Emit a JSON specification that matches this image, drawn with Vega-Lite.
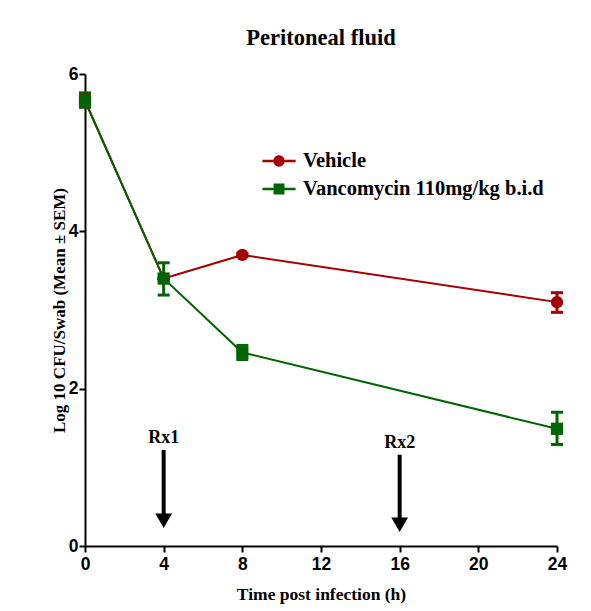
{
  "$schema": "https://vega.github.io/schema/vega-lite/v6.json",
  "width": 472,
  "height": 472,
  "autosize": "none",
  "padding": {"left": 85, "top": 74, "right": 34, "bottom": 65},
  "background": "white",
  "title": {"text": "Peritoneal fluid", "font": "Liberation Serif", "fontSize": 22.5, "fontWeight": "bold", "color": "black", "anchor": "middle", "offset": 16},
  "config": {"view": {"stroke": null}},
  "datasets": {
    "series": [
      {"group": "Vehicle", "t": 0, "mean": 5.66, "lo": 5.58, "hi": 5.74},
      {"group": "Vehicle", "t": 4, "mean": 3.4, "lo": 3.4, "hi": 3.4},
      {"group": "Vehicle", "t": 8, "mean": 3.7, "lo": 3.68, "hi": 3.72},
      {"group": "Vehicle", "t": 24, "mean": 3.1, "lo": 2.97, "hi": 3.22},
      {"group": "Vancomycin 110mg/kg b.i.d", "t": 0, "mean": 5.66, "lo": 5.58, "hi": 5.76},
      {"group": "Vancomycin 110mg/kg b.i.d", "t": 4, "mean": 3.4, "lo": 3.19, "hi": 3.6},
      {"group": "Vancomycin 110mg/kg b.i.d", "t": 8, "mean": 2.46, "lo": 2.37, "hi": 2.55},
      {"group": "Vancomycin 110mg/kg b.i.d", "t": 24, "mean": 1.49, "lo": 1.29, "hi": 1.7}
    ],
    "arrows": [
      {"label": "Rx1", "t": 4, "textY": 1.37, "top": 1.22, "shaftEnd": 0.4, "head": 0.32},
      {"label": "Rx2", "t": 16, "textY": 1.31, "top": 1.16, "shaftEnd": 0.35, "head": 0.27}
    ]
  },
  "encoding": {
    "x": {"field": "t", "type": "quantitative", "scale": {"domain": [0, 24], "nice": false, "zero": false},
      "axis": {"values": [0, 4, 8, 12, 16, 20, 24], "title": "Time post infection (h)", "grid": false, "labelFlush": false, "format": "d",
        "domainColor": "black", "domainWidth": 2, "tickColor": "black", "tickWidth": 2, "tickSize": 6,
        "labelFont": "Liberation Sans", "labelFontSize": 17.5, "labelFontWeight": "bold", "labelColor": "black", "labelPadding": 3,
        "titleFont": "Liberation Serif", "titleFontSize": 17.5, "titleFontWeight": "bold", "titleColor": "black", "titlePadding": 13}}
  },
  "layer": [
    {
      "data": {"name": "series"},
      "mark": {"type": "rule", "strokeWidth": 3},
      "encoding": {
        "y": {"field": "lo", "type": "quantitative", "scale": {"domain": [0, 6], "nice": false, "zero": true},
          "axis": {"values": [0, 2, 4, 6], "title": "Log 10 CFU/Swab (Mean ± SEM)", "grid": false, "format": "d",
            "domainColor": "black", "domainWidth": 2, "tickColor": "black", "tickWidth": 2, "tickSize": 6,
            "labelFont": "Liberation Sans", "labelFontSize": 17.5, "labelFontWeight": "bold", "labelColor": "black", "labelPadding": 1,
            "titleFont": "Liberation Serif", "titleFontSize": 17, "titleFontWeight": "bold", "titleColor": "black", "titlePadding": 0}},
        "y2": {"field": "hi"},
        "color": {"field": "group", "type": "nominal",
          "scale": {"domain": ["Vehicle", "Vancomycin 110mg/kg b.i.d"], "range": ["#a30000", "#006400"]},
          "legend": {"title": null, "orient": "none", "legendX": 177, "legendY": 70, "padding": 0,
            "symbolSize": 1100, "symbolStrokeWidth": 0, "labelOffset": 7, "rowPadding": -18, "labelLimit": 400,
            "labelFont": "Liberation Serif", "labelFontSize": 20.5, "labelFontWeight": "bold", "labelColor": "black"}}
      }
    },
    {
      "data": {"name": "series"},
      "mark": {"type": "tick", "orient": "horizontal", "size": 12, "thickness": 3, "opacity": 1},
      "encoding": {
        "y": {"field": "lo", "type": "quantitative"},
        "color": {"field": "group", "type": "nominal"}
      }
    },
    {
      "data": {"name": "series"},
      "mark": {"type": "tick", "orient": "horizontal", "size": 12, "thickness": 3, "opacity": 1},
      "encoding": {
        "y": {"field": "hi", "type": "quantitative"},
        "color": {"field": "group", "type": "nominal"}
      }
    },
    {
      "data": {"name": "series"},
      "mark": {"type": "line", "strokeWidth": 2},
      "encoding": {
        "y": {"field": "mean", "type": "quantitative"},
        "color": {"field": "group", "type": "nominal"}
      }
    },
    {
      "data": {"name": "series"},
      "mark": {"type": "point", "filled": true, "opacity": 1, "size": 0},
      "encoding": {
        "y": {"field": "mean", "type": "quantitative"},
        "color": {"field": "group", "type": "nominal"},
        "shape": {"field": "group", "type": "nominal",
          "scale": {"domain": ["Vehicle", "Vancomycin 110mg/kg b.i.d"],
            "range": ["M-1,-0.076H1V0.076H-1Z M-0.34,0A0.34,0.34 0 1,1 0.34,0A0.34,0.34 0 1,1 -0.34,0Z",
                      "M-1,-0.076H1V0.076H-1Z M-0.33,-0.33H0.33V0.33H-0.33Z"]}}
      }
    },
    {
      "data": {"name": "series"},
      "transform": [{"filter": "datum.group == 'Vehicle'"}],
      "mark": {"type": "point", "shape": "circle", "filled": true, "opacity": 1, "size": 150},
      "encoding": {
        "y": {"field": "mean", "type": "quantitative"},
        "color": {"field": "group", "type": "nominal"}
      }
    },
    {
      "data": {"name": "series"},
      "transform": [{"filter": "datum.group != 'Vehicle'"}],
      "mark": {"type": "point", "shape": "square", "filled": true, "opacity": 1, "size": 150},
      "encoding": {
        "y": {"field": "mean", "type": "quantitative"},
        "color": {"field": "group", "type": "nominal"}
      }
    },
    {
      "data": {"name": "arrows"},
      "mark": {"type": "rule", "strokeWidth": 4, "color": "black"},
      "encoding": {
        "y": {"field": "top", "type": "quantitative"},
        "y2": {"field": "shaftEnd"}
      }
    },
    {
      "data": {"name": "arrows"},
      "mark": {"type": "point", "shape": "triangle-down", "filled": true, "opacity": 1, "color": "black", "size": 280},
      "encoding": {
        "y": {"field": "head", "type": "quantitative"}
      }
    },
    {
      "data": {"name": "arrows"},
      "mark": {"type": "text", "font": "Liberation Serif", "fontSize": 18, "fontWeight": "bold", "color": "black", "baseline": "middle"},
      "encoding": {
        "y": {"field": "textY", "type": "quantitative"},
        "text": {"field": "label"}
      }
    }
  ]
}
